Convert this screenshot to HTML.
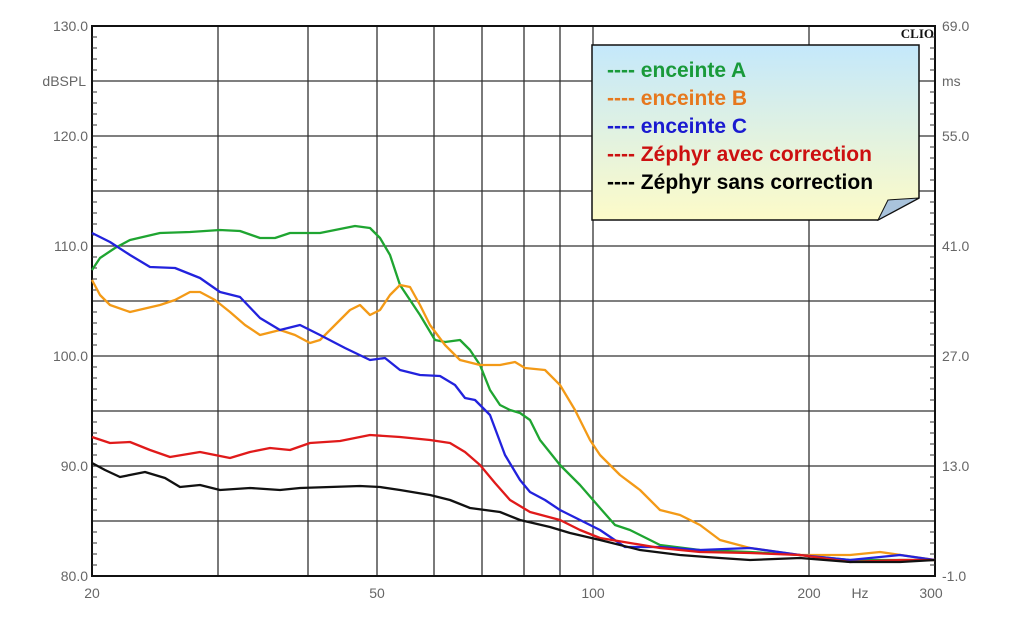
<!DOCTYPE html><html><head><meta charset="utf-8"><style>body{margin:0;background:#fff}svg{display:block}</style></head><body>
<svg width="1024" height="624" xmlns="http://www.w3.org/2000/svg" font-family="Liberation Sans, sans-serif">
<defs><linearGradient id="lg" x1="0" y1="0" x2="0" y2="1"><stop offset="0" stop-color="#c4e8fb"/><stop offset="1" stop-color="#fdfbc8"/></linearGradient></defs>
<rect width="1024" height="624" fill="#fff"/>
<g stroke="#333" stroke-width="1.3">
<line x1="92" y1="81" x2="935" y2="81"/><line x1="92" y1="136" x2="935" y2="136"/><line x1="92" y1="191" x2="935" y2="191"/><line x1="92" y1="246" x2="935" y2="246"/><line x1="92" y1="301" x2="935" y2="301"/><line x1="92" y1="356" x2="935" y2="356"/><line x1="92" y1="411" x2="935" y2="411"/><line x1="92" y1="466" x2="935" y2="466"/><line x1="92" y1="521" x2="935" y2="521"/>
<line x1="218" y1="26" x2="218" y2="576"/><line x1="308" y1="26" x2="308" y2="576"/><line x1="377" y1="26" x2="377" y2="576"/><line x1="434" y1="26" x2="434" y2="576"/><line x1="482" y1="26" x2="482" y2="576"/><line x1="524" y1="26" x2="524" y2="576"/><line x1="560" y1="26" x2="560" y2="576"/><line x1="593" y1="26" x2="593" y2="576"/><line x1="809" y1="26" x2="809" y2="576"/>
</g>
<rect x="92" y="26" width="843" height="550" fill="none" stroke="#111" stroke-width="2"/>
<g stroke="#333" stroke-width="1">
<path d="M92 37h5M92 48h5M92 59h5M92 70h5M92 92h5M92 103h5M92 114h5M92 125h5M92 147h5M92 158h5M92 169h5M92 180h5M92 202h5M92 213h5M92 224h5M92 235h5M92 257h5M92 268h5M92 279h5M92 290h5M92 312h5M92 323h5M92 334h5M92 345h5M92 367h5M92 378h5M92 389h5M92 400h5M92 422h5M92 433h5M92 444h5M92 455h5M92 477h5M92 488h5M92 499h5M92 510h5M92 532h5M92 543h5M92 554h5M92 565h5"/>
<path transform="translate(838,0)" d="M92 37h5M92 48h5M92 59h5M92 70h5M92 92h5M92 103h5M92 114h5M92 125h5M92 147h5M92 158h5M92 169h5M92 180h5M92 202h5M92 213h5M92 224h5M92 235h5M92 257h5M92 268h5M92 279h5M92 290h5M92 312h5M92 323h5M92 334h5M92 345h5M92 367h5M92 378h5M92 389h5M92 400h5M92 422h5M92 433h5M92 444h5M92 455h5M92 477h5M92 488h5M92 499h5M92 510h5M92 532h5M92 543h5M92 554h5M92 565h5"/>
</g>
<g font-size="14" fill="#666" text-anchor="end">
<text x="88" y="31">130.0</text><text x="86" y="86">dBSPL</text><text x="88" y="141">120.0</text><text x="88" y="251">110.0</text><text x="88" y="361">100.0</text><text x="88" y="471">90.0</text><text x="88" y="581">80.0</text>
</g>
<g font-size="14" fill="#666">
<text x="942" y="31">69.0</text><text x="942" y="86">ms</text><text x="942" y="141">55.0</text><text x="942" y="251">41.0</text><text x="942" y="361">27.0</text><text x="942" y="471">13.0</text><text x="942" y="581">-1.0</text>
</g>
<g font-size="14" fill="#666" text-anchor="middle">
<text x="92" y="598">20</text><text x="377" y="598">50</text><text x="593" y="598">100</text><text x="809" y="598">200</text><text x="860" y="598">Hz</text><text x="931" y="598">300</text>
</g>
<text x="934" y="38" font-family="Liberation Serif, serif" font-weight="bold" font-size="13" text-anchor="end" fill="#111">CLIO</text>
<g fill="none" stroke-width="2.3" stroke-linejoin="round">
<polyline stroke="#1fa531" points="92,270 100,258 115,248 130,240 160,233 190,232 220,230 240,231 260,238 275,238 290,233 320,233 335,230 355,226 370,228 380,238 390,255 400,285 410,300 420,315 435,340 445,342 460,340 470,350 480,365 490,390 500,405 510,410 520,413 530,420 540,440 560,465 580,485 600,508 615,525 630,530 660,545 700,550 750,552 800,555 850,560 900,560 935,560"/>
<polyline stroke="#f39a17" points="92,280 100,295 110,305 130,312 160,305 175,300 190,292 200,292 215,300 230,312 245,325 260,335 280,330 295,335 310,343 320,340 335,325 350,310 360,305 370,315 380,310 390,295 400,285 410,287 420,305 430,325 445,345 460,360 480,365 500,365 515,362 525,368 545,370 560,385 575,410 590,440 600,455 620,475 640,490 660,510 680,515 700,525 720,540 750,548 800,555 850,555 880,552 935,560"/>
<polyline stroke="#2222dd" points="92,233 110,242 130,255 150,267 175,268 200,278 220,292 240,297 260,318 280,330 300,325 320,335 345,348 370,360 385,358 400,370 420,375 440,376 455,385 465,398 475,400 490,415 505,455 520,480 530,492 545,500 560,510 580,520 600,530 625,547 660,547 700,550 750,548 800,555 850,560 900,555 935,560"/>
<polyline stroke="#e01a1a" points="92,437 110,443 130,442 150,450 170,457 200,452 230,458 250,452 270,448 290,450 310,443 340,441 370,435 400,437 430,440 450,443 465,452 480,465 495,483 510,500 530,512 560,520 580,530 600,538 630,543 660,548 700,552 750,553 800,555 850,562 900,560 935,560"/>
<polyline stroke="#111" points="92,463 105,470 120,477 145,472 165,478 180,487 200,485 220,490 250,488 280,490 300,488 330,487 360,486 380,487 400,490 430,495 450,500 470,508 500,512 520,520 550,527 570,533 600,540 640,550 680,555 720,558 750,560 800,558 850,562 900,562 935,560"/>
</g>
<path d="M592 45H919V198L878 220H592Z" fill="url(#lg)" stroke="#111" stroke-width="1.5"/>
<path d="M878 220L888 200L919 198Z" fill="#a9c3dc" stroke="#111" stroke-width="1"/>
<g font-size="21" font-weight="bold">
<text x="607" y="77" fill="#199a3a">---- enceinte A</text>
<text x="607" y="105" fill="#e6781e">---- enceinte B</text>
<text x="607" y="133" fill="#1a1ad0">---- enceinte C</text>
<text x="607" y="161" fill="#cc1010">---- Zéphyr avec correction</text>
<text x="607" y="189" fill="#000">---- Zéphyr sans correction</text>
</g>
</svg>
</body></html>
